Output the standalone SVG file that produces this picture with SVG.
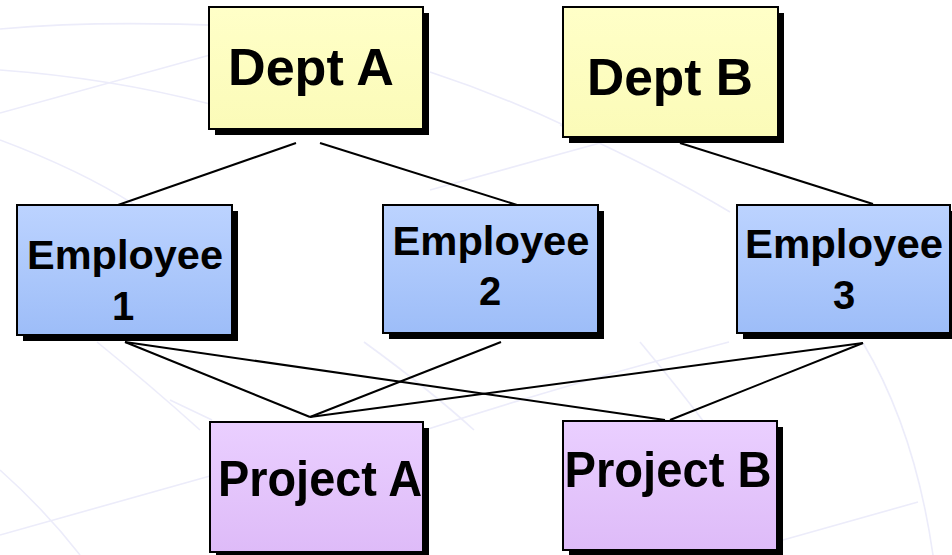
<svg xmlns="http://www.w3.org/2000/svg" width="952" height="555" viewBox="0 0 952 555">
<defs>
<linearGradient id="gDept" x1="0" y1="0" x2="0" y2="1">
<stop offset="0" stop-color="#FFFFC8"/>
<stop offset="1" stop-color="#FBFBB8"/>
</linearGradient>
<linearGradient id="gEmp" x1="0" y1="0" x2="0" y2="1">
<stop offset="0" stop-color="#BCD3FF"/>
<stop offset="1" stop-color="#9DBDF8"/>
</linearGradient>
<linearGradient id="gProj" x1="0" y1="0" x2="0" y2="1">
<stop offset="0" stop-color="#EACFFF"/>
<stop offset="1" stop-color="#DEBBF8"/>
</linearGradient>
</defs>
<style>
.bg{fill:none;stroke:#ECECFA;stroke-width:1.6}
.sh{fill:#000}
.box{stroke:#000;stroke-width:2}
.dept{fill:url(#gDept)}
.emp{fill:url(#gEmp)}
.proj{fill:url(#gProj)}
.lbl{font-family:"Liberation Sans",Arial,sans-serif;font-weight:bold;fill:#000;text-anchor:middle}
.conn{stroke:#000;stroke-width:2;fill:none}
</style>
<rect width="952" height="555" fill="#fff"/>
<g id="background">
<path class="bg" d="M0,29 Q100,20 230,26"/>
<path class="bg" d="M0,70 Q110,78 210,104"/>
<path class="bg" d="M0,113 L210,55"/>
<path class="bg" d="M0,140 Q80,170 135,205"/>
<path class="bg" d="M430,72 Q500,95 570,128"/>
<path class="bg" d="M430,190 L600,143"/>
<path class="bg" d="M560,125 Q660,170 730,212"/>
<path class="bg" d="M97,342 Q150,385 200,430"/>
<path class="bg" d="M364,342 Q430,390 474,430"/>
<path class="bg" d="M640,342 Q680,390 710,430"/>
<path class="bg" d="M425,430 Q580,380 729,342"/>
<path class="bg" d="M170,400 L212,420"/>
<path class="bg" d="M0,470 Q45,510 80,555"/>
<path class="bg" d="M0,535 L210,476"/>
<path class="bg" d="M863,343 Q915,430 933,555"/>
<path class="bg" d="M783,540 L918,502"/>
</g>
<g id="connectors">
<line class="conn" x1="296" y1="143" x2="118" y2="205"/>
<line class="conn" x1="320" y1="143" x2="517" y2="205"/>
<line class="conn" x1="680" y1="143" x2="873" y2="204"/>
<line class="conn" x1="125" y1="342" x2="310" y2="417"/>
<line class="conn" x1="125" y1="342" x2="665" y2="420"/>
<line class="conn" x1="501" y1="342" x2="310" y2="417"/>
<line class="conn" x1="863" y1="343" x2="310" y2="417"/>
<line class="conn" x1="863" y1="343" x2="670" y2="420"/>
</g>
<g id="dept-a">
<rect class="sh" x="215" y="13" width="214" height="122"/>
<rect class="box dept" x="209" y="7" width="214" height="122"/>
<text class="lbl" x="311" y="85" font-size="52" textLength="166" lengthAdjust="spacingAndGlyphs">Dept A</text>
</g>
<g id="dept-b">
<rect class="sh" x="569" y="13" width="215" height="130"/>
<rect class="box dept" x="563" y="7" width="215" height="130"/>
<text class="lbl" x="670" y="95" font-size="52" textLength="166" lengthAdjust="spacingAndGlyphs">Dept B</text>
</g>
<g id="employee-1">
<rect class="sh" x="23" y="211" width="215" height="130"/>
<rect class="box emp" x="17" y="205" width="215" height="130"/>
<text class="lbl" x="125" y="269" font-size="40" textLength="196" lengthAdjust="spacingAndGlyphs">Employee</text>
<text class="lbl" x="123" y="320" font-size="40">1</text>
</g>
<g id="employee-2">
<rect class="sh" x="389" y="211" width="215" height="128"/>
<rect class="box emp" x="383" y="205" width="215" height="128"/>
<text class="lbl" x="491" y="255" font-size="40" textLength="197" lengthAdjust="spacingAndGlyphs">Employee</text>
<text class="lbl" x="490" y="305" font-size="40">2</text>
</g>
<g id="employee-3">
<rect class="sh" x="743" y="211" width="213" height="128"/>
<rect class="box emp" x="737" y="205" width="213" height="128"/>
<text class="lbl" x="844" y="258" font-size="40" textLength="198" lengthAdjust="spacingAndGlyphs">Employee</text>
<text class="lbl" x="844" y="309" font-size="40">3</text>
</g>
<g id="project-a">
<rect class="sh" x="216" y="428" width="213" height="130"/>
<rect class="box proj" x="210" y="422" width="213" height="130"/>
<text class="lbl" x="320" y="496" font-size="50" textLength="204" lengthAdjust="spacingAndGlyphs">Project A</text>
</g>
<g id="project-b">
<rect class="sh" x="569" y="427" width="214" height="129"/>
<rect class="box proj" x="563" y="421" width="214" height="129"/>
<text class="lbl" x="668" y="487" font-size="50" textLength="207" lengthAdjust="spacingAndGlyphs">Project B</text>
</g>
</svg>
